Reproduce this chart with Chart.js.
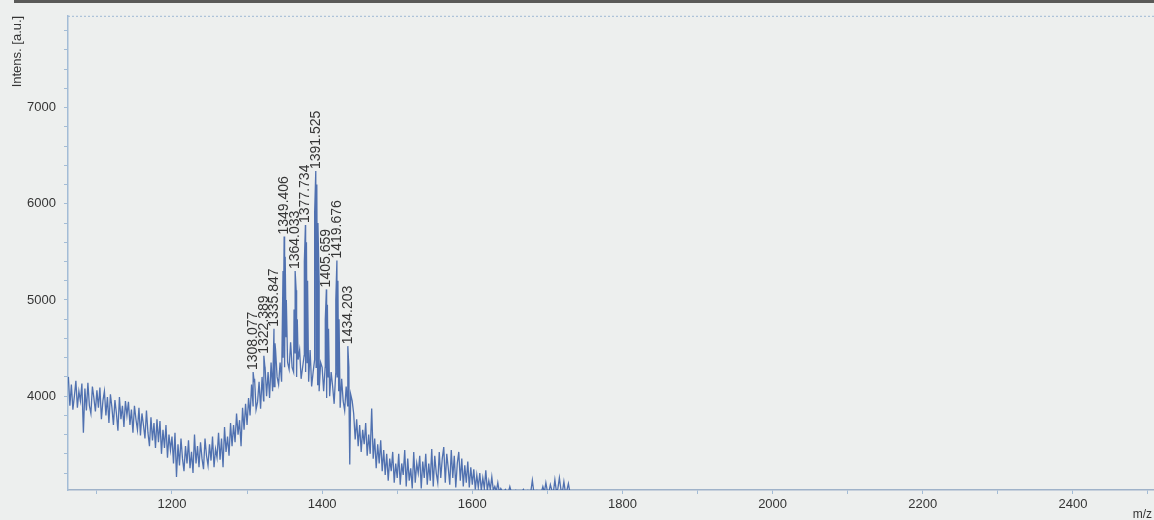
<!DOCTYPE html>
<html>
<head>
<meta charset="utf-8">
<title>Mass spectrum</title>
<script src="https://cdn.jsdelivr.net/npm/chart.js@4.4.1/dist/chart.umd.min.js"></script>
<style>
    html, body { margin: 0; padding: 0; background: #edefee; }
    #wrap { width: 1154px; height: 520px; position: relative; }
</style>
</head>
<body>
<div id="wrap"><canvas id="spectrum"></canvas></div>
<script>
// Spectrum, one value every 2 m/z from 1062 (10 values per row = 20 m/z)
const mzStart = 1062;
const mzStep = 2;
const intensity = [
    4200, 3900, 4120, 3860, 4000, 4160, 3880, 4050, 3950, 4130,   // 1062
    3620, 4080, 3850, 4140, 3900, 3820, 4100, 3980, 3840, 4060,   // 1082
    3880, 4090, 3760, 3950, 4050, 3800, 3990, 3720, 4020, 3880,   // 1102
    3700, 3960, 3820, 3640, 3990, 3760, 3900, 3680, 3950, 3800,   // 1122
    3940, 3700, 3860, 3620, 3900, 3760, 3650, 3880, 3590, 3820,   // 1142
    3700, 3560, 3850, 3620, 3480, 3780, 3540, 3720, 3460, 3760,   // 1162
    3520, 3740, 3400, 3650, 3460, 3700, 3360, 3600, 3440, 3580,   // 1182
    3300, 3620, 3160, 3500, 3280, 3560, 3350, 3220, 3480, 3300,   // 1202
    3540, 3250, 3420, 3200, 3600, 3300, 3480, 3260, 3520, 3350,   // 1222
    3240, 3560, 3380, 3280, 3500, 3330, 3580, 3260, 3450, 3360,   // 1242
    3620, 3340, 3560, 3260, 3680, 3420, 3580, 3380, 3720, 3480,   // 1262
    3700, 3520, 3820, 3600, 3750, 3480, 3880, 3650, 3920, 3700,   // 1282
    3980, 3800, 4120, 3900, 4180, 3860, 3940, 4150, 3870, 4200,   // 1302
    3950, 4300, 4000, 4250, 3980, 4350, 4050, 4100, 4480, 4200,   // 1322
    4120, 4350, 4150, 4400, 4300, 4620, 4350, 4280, 4560, 4300,   // 1342
    4250, 4450, 4200, 4380, 4480, 4180, 4300, 4420, 4250, 4350,   // 1362
    4150, 4480, 4100, 4250, 4380, 4300, 4120, 4050, 4350, 4300,   // 1382
    4050, 4300, 3980, 4200, 4000, 4250, 4100, 3920, 4230, 4200,   // 1402
    4050, 3880, 4180, 3950, 3850, 4100, 3900, 3800, 4020, 3950,   // 1422
    3820, 3550, 3760, 3480, 3700, 3420, 3650, 3500, 3720, 3380,   // 1442
    3600, 3400, 3870, 3350, 3560, 3250, 3500, 3300, 3540, 3220,   // 1462
    3440, 3180, 3400, 3120, 3350, 3220, 3420, 3100, 3300, 3150,   // 1482
    3400, 3080, 3300, 3180, 3440, 3060, 3350, 3120, 3250, 3040,   // 1502
    3420, 3100, 3300, 3200, 3380, 3040, 3320, 3150, 3400, 3080,   // 1522
    3300, 3120, 3450, 3060, 3380, 3200, 3100, 3420, 3150, 3350,   // 1542
    3470, 3100, 3400, 3250, 3080, 3440, 3150, 3380, 3050, 3300,   // 1562
    3420, 3120, 3350, 3060, 3280, 3100, 3320, 3050, 3260, 3080,   // 1582
    3240, 3030, 3180, 3050, 3200, 3020, 3150, 3040, 3230, 3020,   // 1602
    3120, 3030, 3160, 3020, 3060, 3010, 3100, 3000, 3040, 3010,   // 1622
    3000, 3030, 3010, 3000, 3060, 3000, 3010, 3000, 3020, 3000,   // 1642
    3000, 3010, 3000, 3030, 3000, 3010, 3020, 3000, 3010, 3125,   // 1662
    3000, 3010, 3020, 3000, 3010, 3000, 3060, 3000, 3100, 3010,   // 1682
    3000, 3080, 3020, 3000, 3130, 3010, 3040, 3150, 3030, 3000,   // 1702
    3110, 3000, 3020, 3090, 3000, 3010, 3000, 3000, 3000, 3000    // 1722
];

// Labelled peaks
const peakMz = [1308.077, 1322.389, 1335.847, 1349.406, 1364.033, 1377.734, 1391.525, 1405.659, 1419.676, 1434.203];
const peakTop = [4250, 4420, 4700, 5660, 5300, 5780, 6340, 5110, 5410, 4520];

// Unlabelled satellite spikes around the peaks
const extraMz = [1309.5, 1323.8, 1337.2, 1347.9, 1350.8, 1352.3, 1362.6, 1365.4, 1366.9, 1376.3, 1379.1, 1380.6,
    1390.0, 1392.9, 1394.4, 1395.9, 1404.2, 1407.0, 1408.5, 1418.2, 1421.0, 1422.5, 1435.6, 1436.8];
const extraVal = [4150, 4300, 4550, 5300, 5450, 5000, 4900, 5100, 4800, 5400, 5600, 5200,
    5900, 6200, 5800, 5200, 4800, 4950, 4700, 5000, 5200, 4800, 4300, 3290];

// Axis ticks
const xTicks = [1100, 1200, 1300, 1400, 1500, 1600, 1700, 1800, 1900, 2000, 2100, 2200, 2300, 2400, 2500];
const yTicks = [3200, 3400, 3600, 3800, 4000, 4200, 4400, 4600, 4800, 5000, 5200, 5400, 5600, 5800,
    6000, 6200, 6400, 6600, 6800, 7000, 7200, 7400, 7600, 7800];

const FONT = "'Liberation Sans', Arial, sans-serif";
const TEXT = '#353535';
const AXIS = '#a3bcd6';

// merge grid points with peaks and satellites, sorted by m/z
const points = intensity.map((v, i) => ({ x: mzStart + i * mzStep, y: v }))
    .concat(peakMz.map((m, i) => ({ x: m, y: peakTop[i] })))
    .concat(extraMz.map((m, i) => ({ x: m, y: extraVal[i] })))
    .sort((a, b) => a.x - b.x);

const decorations = {
    id: 'decorations',
    beforeDraw(chart) {
        const ctx = chart.ctx;
        ctx.save();
        ctx.fillStyle = '#edefee';
        ctx.fillRect(0, 0, chart.width, chart.height);
        // dark edge of the scanned page
        ctx.fillStyle = '#5a5a58';
        ctx.fillRect(14, 0, chart.width, 3);
        ctx.restore();
    },
    afterDraw(chart) {
        const ctx = chart.ctx;
        const area = chart.chartArea;
        const xs = chart.scales.x;
        const ys = chart.scales.y;
        ctx.save();

        // dotted top frame
        ctx.strokeStyle = '#9fb8d4';
        ctx.lineWidth = 1;
        ctx.setLineDash([2, 2]);
        ctx.beginPath();
        ctx.moveTo(area.left, area.top + 0.5);
        ctx.lineTo(area.right, area.top + 0.5);
        ctx.stroke();
        ctx.setLineDash([]);

        ctx.fillStyle = TEXT;

        // y axis title
        ctx.save();
        ctx.translate(17, area.top);
        ctx.rotate(-Math.PI / 2);
        ctx.font = '13px ' + FONT;
        ctx.textAlign = 'right';
        ctx.textBaseline = 'middle';
        ctx.fillText('Intens. [a.u.]', 0, 0);
        ctx.restore();

        // x axis title
        ctx.font = '12px ' + FONT;
        ctx.textAlign = 'right';
        ctx.textBaseline = 'alphabetic';
        ctx.fillText('m/z', 1152, 518);

        // peak labels
        ctx.font = '14px ' + FONT;
        peakMz.forEach((m, i) => {
            const px = xs.getPixelForValue(m);
            const py = ys.getPixelForValue(peakTop[i]) - 2;
            ctx.save();
            ctx.translate(px, py);
            ctx.rotate(-Math.PI / 2);
            ctx.textAlign = 'left';
            ctx.textBaseline = 'middle';
            ctx.fillText(m.toFixed(3), 0, 0);
            ctx.restore();
        });

        ctx.restore();
    }
};

new Chart(document.getElementById('spectrum'), {
    type: 'line',
    data: {
        datasets: [{
            data: points,
            borderColor: 'rgba(52, 90, 165, 0.85)',
            borderWidth: 1.3,
            pointRadius: 0,
            tension: 0
        }]
    },
    options: {
        responsive: true,
        maintainAspectRatio: false,
        animation: false,
        layout: { padding: { top: 15, left: 0, right: 0, bottom: 0 } },
        plugins: {
            legend: { display: false },
            tooltip: { enabled: false }
        },
        scales: {
            x: {
                type: 'linear',
                min: 1061.5,
                max: 2508,
                afterBuildTicks: scale => { scale.ticks = xTicks.map(v => ({ value: v })); },
                afterFit: scale => { scale.height = 30; },
                grid: { drawOnChartArea: false, drawTicks: true, tickLength: 4, color: AXIS },
                border: { color: '#9fb2c9', width: 1.5 },
                ticks: {
                    autoSkip: false,
                    maxRotation: 0,
                    padding: 3,
                    color: TEXT,
                    font: { family: FONT, size: 13 },
                    callback: v => (v % 200 === 0 ? String(v) : '')
                }
            },
            y: {
                min: 3024,
                max: 7955,
                afterBuildTicks: scale => { scale.ticks = yTicks.map(v => ({ value: v })); },
                afterFit: scale => { scale.width = 68; },
                grid: { drawOnChartArea: false, drawTicks: true, tickLength: 4, color: AXIS },
                border: { color: AXIS, width: 1.5 },
                ticks: {
                    autoSkip: false,
                    padding: 8,
                    color: TEXT,
                    font: { family: FONT, size: 13 },
                    callback: v => (v % 1000 === 0 ? String(v) : '')
                }
            }
        }
    },
    plugins: [decorations]
});
</script>
</body>
</html>
